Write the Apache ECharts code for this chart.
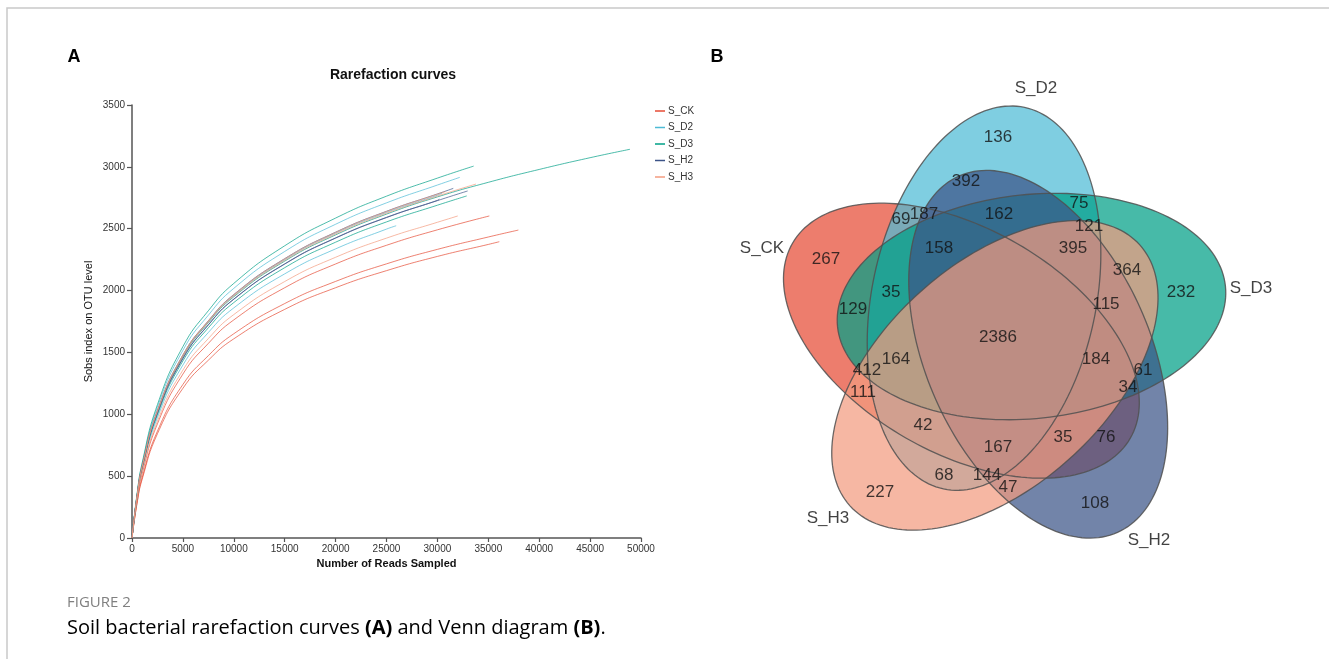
<!DOCTYPE html>
<html>
<head>
<meta charset="utf-8">
<script src="https://cdn.jsdelivr.net/npm/echarts@6/dist/echarts.min.js"></script>
<style>
html,body{margin:0;padding:0;background:#fff;}
#chart{width:1329px;height:659px;}
</style>
</head>
<body>
<div id="chart"></div>
<script>
// ---- Rarefaction curves (panel A) ----
const groups = ['S_CK', 'S_D2', 'S_D3', 'S_H2', 'S_H3'];
const groupColors = ['#E64B35', '#4DBBD5', '#00A087', '#3C5488', '#F39B7F'];

// reads depth at which the observed OTU counts are listed
const sampleReads = [0, 500, 1000, 2500, 5000, 7500, 10000, 15000, 20000, 25000, 30000, 35000, 40000, 45000];

// observed OTUs per replicate, followed by each replicate's final depth/OTU pair
const curvesCK = [
  [0, 308, 521, 923, 1325, 1573, 1763, 2023, 2215, 2366, 2491],
  [0, 288, 488, 864, 1241, 1474, 1651, 1895, 2074, 2216, 2333, 2433],
  [0, 281, 475, 843, 1210, 1437, 1610, 1848, 2023, 2161, 2276, 2373]
];
const endsCK = [[35100, 2603], [37950, 2489], [36080, 2395]];

const curvesD2 = [
  [0, 325, 549, 974, 1398, 1661, 1860, 2135, 2337, 2497],
  [0, 352, 596, 1057, 1517, 1801, 2018, 2316, 2536, 2709, 2853],
  [0, 342, 579, 1026, 1474, 1750, 1961, 2250, 2464, 2632, 2771]
];
const endsD2 = [[25950, 2524], [32200, 2915], [30500, 2790]];

const curvesD3 = [
  [0, 359, 608, 1078, 1547, 1837, 2058, 2362, 2586, 2763, 2909],
  [0, 340, 576, 1021, 1466, 1741, 1950, 2238, 2450, 2618, 2757, 2875, 2979, 3074],
  [0, 332, 562, 996, 1431, 1699, 1903, 2185, 2391, 2555, 2690]
];
const endsD3 = [[33560, 3006], [48920, 3142], [32880, 2765]];

const curvesH2 = [
  [0, 337, 570, 1010, 1450, 1722, 1930, 2214, 2424, 2590, 2727],
  [0, 337, 570, 1011, 1452, 1724, 1931, 2216, 2426, 2592, 2729],
  [0, 343, 581, 1030, 1479, 1756, 1968, 2258, 2472, 2641, 2781]
];
const endsH2 = [[32970, 2805], [30200, 2740], [31560, 2826]];

const curvesH3 = [
  [0, 315, 533, 945, 1357, 1612, 1806, 2073, 2269, 2424, 2552],
  [0, 341, 578, 1024, 1470, 1746, 1956, 2244, 2457, 2625, 2764],
  [0, 343, 581, 1029, 1478, 1755, 1966, 2256, 2470, 2639, 2779]
];
const endsH3 = [[32000, 2603], [33790, 2861], [30800, 2800]];

// ---- Venn diagram (panel B) ----
const vennSets = ['S_CK', 'S_D2', 'S_D3', 'S_H2', 'S_H3'];
const vennCounts = [136, 392, 75, 69, 187, 162, 121, 158, 395, 267, 364, 232, 35, 129, 115,
                    2386, 164, 184, 412, 61, 34, 111, 42, 35, 76, 167, 68, 144, 47, 227, 108];

// where each region's count is written (diagram units, origin at the centre, y up)
const vennLabelPos = [[-2,197],[-34,153],[79,131],[-99,115],[-76,120],[-1,120],[89,108],[-61,86],
  [73,86],[-174,75],[127,64],[181,42],[-109,42],[-147,25],[106,30],[-2,-3],[-104,-25],[96,-25],
  [-133,-36],[143,-36],[128,-53],[-137,-58],[-77,-91],[63,-103],[106,-103],[-2,-113],[-56,-141],
  [-13,-141],[8,-153],[-120,-158],[95,-169]];
const vennNamePos = [[-238,86],[36,246],[251,46],[149,-206],[-172,-184]];

// ellipse geometry: five congruent ellipses rotated 72 degrees apart
const ELL = { offset: 41, a: 195, b: 112, firstAngle: 188, step: 72, tilt: -38, cx: 2, cy: -1 };

function buildCurves(curves, ends) {
  return curves.map((vals, i) => {
    const pts = vals.map((v, j) => [sampleReads[j], v]);
    pts.push(ends[i]);
    return pts;
  });
}

const groupCurves = [
  buildCurves(curvesCK, endsCK),
  buildCurves(curvesD2, endsD2),
  buildCurves(curvesD3, endsD3),
  buildCurves(curvesH2, endsH2),
  buildCurves(curvesH3, endsH3)
];

const FONT = 'Liberation Sans, Arial, sans-serif';
const series = [];
groupCurves.forEach((list, g) => {
  list.forEach(pts => {
    series.push({
      type: 'line',
      name: groups[g],
      xAxisIndex: 0,
      yAxisIndex: 0,
      data: pts,
      showSymbol: false,
      smooth: 0.5,
      color: groupColors[g],
      lineStyle: { width: 1, color: groupColors[g], opacity: 0.7 },
      emphasis: { disabled: true },
      silent: true
    });
  });
});

function hexToRgba(hex, a) {
  const n = parseInt(hex.slice(1), 16);
  return 'rgba(' + ((n >> 16) & 255) + ',' + ((n >> 8) & 255) + ',' + (n & 255) + ',' + a + ')';
}

function ellipsePoints(i, api) {
  const th = (ELL.firstAngle - ELL.step * i) * Math.PI / 180;
  const ph = th + ELL.tilt * Math.PI / 180;
  const cx = ELL.cx + ELL.offset * Math.cos(th), cy = ELL.cy + ELL.offset * Math.sin(th);
  const pts = [];
  for (let d = 0; d < 360; d += 2) {
    const t = d * Math.PI / 180;
    const lx = ELL.a * Math.cos(t), ly = ELL.b * Math.sin(t);
    pts.push(api.coord([cx + lx * Math.cos(ph) - ly * Math.sin(ph),
                        cy + lx * Math.sin(ph) + ly * Math.cos(ph)]));
  }
  return pts;
}

// filled ellipses
series.push({
  type: 'custom',
  xAxisIndex: 1,
  yAxisIndex: 1,
  silent: true,
  data: vennSets.map((s, i) => [i]),
  renderItem: function (params, api) {
    const i = params.dataIndex;
    return {
      type: 'polygon',
      shape: { points: ellipsePoints(i, api) },
      style: { fill: hexToRgba(groupColors[i], 0.72), stroke: null }
    };
  }
});
// outlines on top of all fills
series.push({
  type: 'custom',
  xAxisIndex: 1,
  yAxisIndex: 1,
  silent: true,
  data: vennSets.map((s, i) => [i]),
  renderItem: function (params, api) {
    return {
      type: 'polygon',
      shape: { points: ellipsePoints(params.dataIndex, api) },
      style: { fill: null, stroke: 'rgba(80,80,80,0.85)', lineWidth: 1.3 }
    };
  }
});
// region counts
series.push({
  type: 'scatter',
  xAxisIndex: 1,
  yAxisIndex: 1,
  silent: true,
  symbolSize: 0,
  data: vennCounts.map((c, i) => [vennLabelPos[i][0], vennLabelPos[i][1], c]),
  label: {
    show: true, position: 'inside',
    formatter: p => String(p.value[2]),
    fontSize: 17, color: '#111', fontFamily: FONT
  }
});
// set names
series.push({
  type: 'scatter',
  xAxisIndex: 1,
  yAxisIndex: 1,
  silent: true,
  symbolSize: 0,
  data: vennSets.map((s, i) => ({ value: vennNamePos[i], name: s })),
  label: {
    show: true, position: 'inside',
    formatter: p => p.name,
    fontSize: 17, color: '#111', fontFamily: FONT
  }
});

const chart = echarts.init(document.getElementById('chart'), null, { renderer: 'canvas' });
chart.setOption({
  animation: false,
  backgroundColor: '#fff',
  legend: {
    data: groups,
    orient: 'vertical',
    left: 650,
    top: 100,
    itemWidth: 10,
    itemHeight: 1.5,
    itemGap: 4.5,
    icon: 'rect',
    selectedMode: false,
    textStyle: { fontSize: 10, color: '#333', fontFamily: FONT, lineHeight: 12, padding: [0, 0, 0, -2] }
  },
  grid: [
    { left: 132, top: 105, width: 509, height: 433 },
    { left: 700, top: 34, width: 600, height: 600 }
  ],
  xAxis: [
    {
      gridIndex: 0, type: 'value', min: 0, max: 50000, interval: 5000,
      name: 'Number of Reads Sampled', nameLocation: 'middle', nameGap: 20,
      nameTextStyle: { fontSize: 11, fontWeight: 'bold', color: '#111', fontFamily: FONT },
      axisLine: { lineStyle: { color: '#555', width: 1.5 } },
      axisTick: { length: 4, lineStyle: { color: '#555', width: 1.2 } },
      axisLabel: { fontSize: 10, color: '#333', margin: 6, fontFamily: FONT, formatter: v => String(v) },
      splitLine: { show: false }
    },
    { gridIndex: 1, type: 'value', min: -300, max: 300, show: false }
  ],
  yAxis: [
    {
      gridIndex: 0, type: 'value', min: 0, max: 3500, interval: 500,
      name: 'Sobs index on OTU level', nameLocation: 'middle', nameGap: 38, nameRotate: 90,
      nameTextStyle: { fontSize: 11, color: '#111', fontFamily: FONT },
      axisLine: { show: true, lineStyle: { color: '#555', width: 1.5 } },
      axisTick: { show: true, length: 5, lineStyle: { color: '#555', width: 1.2 } },
      axisLabel: { fontSize: 10, color: '#333', margin: 7, fontFamily: FONT, formatter: v => String(v) },
      splitLine: { show: false }
    },
    { gridIndex: 1, type: 'value', min: -300, max: 300, show: false }
  ],
  graphic: [
    { type: 'rect', silent: true, shape: { x: 7, y: 8, width: 1400, height: 700 },
      style: { fill: null, stroke: '#c9c9c9', lineWidth: 1.5 } },
    { type: 'text', x: 74, y: 57, silent: true,
      style: { text: 'A', font: 'bold 18px ' + FONT, fill: '#000', textAlign: 'center', textVerticalAlign: 'middle' } },
    { type: 'text', x: 717, y: 57, silent: true,
      style: { text: 'B', font: 'bold 18px ' + FONT, fill: '#000', textAlign: 'center', textVerticalAlign: 'middle' } },
    { type: 'text', x: 393, y: 75, silent: true,
      style: { text: 'Rarefaction curves', font: 'bold 14px ' + FONT, fill: '#111', textAlign: 'center', textVerticalAlign: 'middle' } },
    { type: 'text', x: 67, y: 603, silent: true,
      style: { text: 'FIGURE 2', font: '15px "Open Sans", sans-serif', fill: '#808080', textVerticalAlign: 'middle' } },
    { type: 'text', x: 67, y: 628, silent: true,
      style: {
        text: '{n|Soil bacterial rarefaction curves }{b|(A)}{n| and Venn diagram }{b|(B)}{n|.}',
        textVerticalAlign: 'middle',
        rich: {
          n: { fontSize: 20, fontFamily: '"Open Sans", sans-serif', color: '#555' },
          b: { fontSize: 20, fontFamily: '"Open Sans", sans-serif', fontWeight: 'bold', color: '#444' }
        }
      } }
  ],
  series: series
});
</script>
</body>
</html>
